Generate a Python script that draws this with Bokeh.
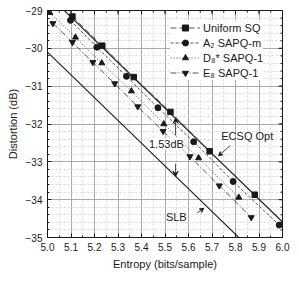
from bokeh.plotting import figure
from bokeh.models import (Arrow, VeeHead, Label, Legend, LegendItem,
                          FixedTicker, NumeralTickFormatter)
from bokeh.embed import file_html
from bokeh.resources import INLINE

# ---- data ----
h_sq = [5.106, 5.233, 5.367, 5.523, 5.690, 5.882]
d_sq = [-29.16, -29.93, -30.76, -31.68, -32.72, -33.87]
h_a2 = [5.098, 5.210, 5.336, 5.470, 5.622, 5.790, 5.986]
d_a2 = [-29.26, -29.97, -30.74, -31.57, -32.47, -33.52, -34.67]
h_d8 = [5.010, 5.119, 5.231, 5.357, 5.495, 5.643, 5.814]
d_d8 = [-29.06, -29.71, -30.39, -31.13, -32.00, -32.90, -33.94]
h_e8 = [5.023, 5.106, 5.193, 5.286, 5.384, 5.492, 5.606, 5.731, 5.867]
d_e8 = [-29.34, -29.84, -30.37, -30.93, -31.54, -32.19, -32.86, -33.63, -34.47]
# theoretical bounds (straight lines, -6.02 dB/bit)
h_bound = [5.0, 6.0]
d_ecsq = [-28.57, -34.59]
d_slb = [-30.10, -36.12]
gap_db = 1.53

x_ticks = [5.0, 5.1, 5.2, 5.3, 5.4, 5.5, 5.6, 5.7, 5.8, 5.9, 6.0]
x_minor = [round(5.0 + 0.05 * i, 2) for i in range(21)]
y_ticks = [-35, -34, -33, -32, -31, -30, -29]
y_minor = [round(-35 + 0.2 * i, 1) for i in range(31)]

labels = ["Uniform SQ", "A\u2082 SAPQ-m", "D\u2088* SAPQ-1", "E\u2088 SAPQ-1"]

FONT = "Liberation Sans"
INK = "#1a1a1a"
X0, X1, Y0, Y1 = 5.0, 6.0, -35.0, -29.0
FW, FH = 235, 227  # frame size in px
dx_px = (X1 - X0) / FW
dy_px = (Y1 - Y0) / FH

p = figure(width=299, height=285, x_range=(X0, X1), y_range=(Y0, Y1),
           output_backend="svg", toolbar_location=None,
           min_border_left=47, min_border_right=17, min_border_top=10,
           min_border_bottom=48)
p.outline_line_color = INK
p.background_fill_color = "white"

xt = FixedTicker(ticks=x_ticks, minor_ticks=x_minor)
yt = FixedTicker(ticks=y_ticks, minor_ticks=y_minor)
p.xaxis.ticker = xt
p.yaxis.ticker = yt
p.xaxis.formatter = NumeralTickFormatter(format="0.0")

for ax in (p.xaxis[0], p.yaxis[0]):
    ax.major_tick_in = 4
    ax.major_tick_out = 0
    ax.minor_tick_in = 2
    ax.minor_tick_out = 0
    ax.major_label_standoff = 5
    ax.major_label_text_font = FONT
    ax.major_label_text_font_size = "10px"
    ax.major_label_text_color = INK
    ax.axis_label_text_font = FONT
    ax.axis_label_text_font_size = "11px"
    ax.axis_label_text_font_style = "normal"
    ax.axis_label_text_color = INK
    ax.axis_line_color = INK
    ax.major_tick_line_color = INK
    ax.minor_tick_line_color = INK
    ax.axis_label_standoff = 4
p.xaxis.axis_label = "Entropy (bits/sample)"
p.yaxis.axis_label = "Distortion (dB)"

p.xgrid.ticker = xt
p.ygrid.ticker = yt
for g in (p.xgrid[0], p.ygrid[0]):
    g.grid_line_color = "#9a9a9a"
    g.grid_line_width = 0.8
    g.minor_grid_line_color = "#cfcfcf"
    g.minor_grid_line_dash = "2 2"
    g.minor_grid_line_width = 0.8

# mirrored ticks on top and right edges
top_major = 4 * dy_px
top_minor = 2 * dy_px
p.segment(x_ticks, [Y1] * len(x_ticks), x_ticks, [Y1 - top_major] * len(x_ticks),
          line_color=INK, line_width=1)
p.segment(x_minor, [Y1] * len(x_minor), x_minor, [Y1 - top_minor] * len(x_minor),
          line_color=INK, line_width=1)
p.segment([X1] * len(y_ticks), y_ticks, [X1 - 4 * dx_px] * len(y_ticks), y_ticks,
          line_color=INK, line_width=1)
p.segment([X1] * len(y_minor), y_minor, [X1 - 2 * dx_px] * len(y_minor), y_minor,
          line_color=INK, line_width=1)

# bounds
p.line(h_bound, d_ecsq, line_color=INK, line_width=1.1)
p.line(h_bound, d_slb, line_color=INK, line_width=1.1)

series = [
    (h_sq, d_sq, "6 3", "square", 5.5),
    (h_a2, d_a2, "3 2", "circle", 6),
    (h_d8, d_d8, "1 2", "triangle", 6),
    (h_e8, d_e8, "6 2 1 2", "inverted_triangle", 6),
]
items = []
for (hx, dy, dash, mk, sz), lab in zip(series, labels):
    r1 = p.line(hx, dy, line_color="#444444", line_width=0.9, line_dash=dash)
    r2 = p.scatter(hx, dy, marker=mk, size=sz, fill_color=INK, line_color=INK)
    items.append(LegendItem(label=lab, renderers=[r1, r2]))

legend = Legend(items=items, location="top_right", label_text_font=FONT,
                label_text_font_size="11px", label_text_color=INK,
                glyph_width=30, glyph_height=15, label_height=15,
                spacing=0, padding=4, margin=0, label_standoff=3,
                border_line_color=None, background_fill_alpha=1.0)
legend.location = (123, 157)
p.add_layout(legend)

# 1.53 dB annotation
x_arr = 5.545
y_top = d_ecsq[0] + (d_ecsq[1] - d_ecsq[0]) * (x_arr - h_bound[0])
y_bot = y_top - gap_db
p.add_layout(Arrow(end=VeeHead(size=5, line_color=INK, line_width=1),
                   x_start=x_arr, y_start=-32.3, x_end=x_arr, y_end=y_top,
                   line_color=INK, line_width=0.8))
p.add_layout(Arrow(end=VeeHead(size=5, line_color=INK, line_width=1),
                   x_start=x_arr, y_start=-33.05, x_end=x_arr, y_end=y_bot,
                   line_color=INK, line_width=0.8))
p.add_layout(Label(x=5.506, y=-32.52, text="1.53dB", text_font=FONT,
                   text_font_size="11px", text_color=INK, text_align="center",
                   text_baseline="middle", background_fill_color="white"))

# ECSQ Opt label
p.add_layout(Label(x=5.85, y=-32.32, text="ECSQ Opt", text_font=FONT,
                   text_font_size="11px", text_color=INK, text_align="center",
                   text_baseline="middle"))
p.add_layout(Arrow(end=VeeHead(size=4, line_color=INK, line_width=1),
                   x_start=5.778, y_start=-32.57, x_end=5.728, y_end=-32.84,
                   line_color=INK, line_width=0.8))
# SLB label
p.add_layout(Label(x=5.548, y=-34.45, text="SLB", text_font=FONT,
                   text_font_size="11px", text_color=INK, text_align="center",
                   text_baseline="middle"))
p.add_layout(Arrow(end=VeeHead(size=4, line_color=INK, line_width=1),
                   x_start=5.637, y_start=-34.35, x_end=5.665, y_end=-34.23,
                   line_color=INK, line_width=0.8))

open("out.html", "w").write(file_html(p, INLINE))
